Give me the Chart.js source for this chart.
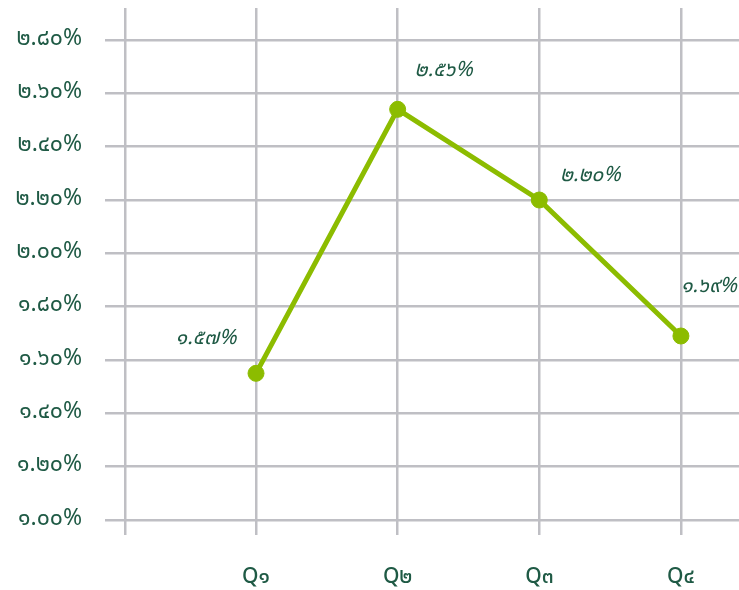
<!DOCTYPE html>
<html>
<head>
<meta charset="utf-8">
<script src="https://cdn.jsdelivr.net/npm/chart.js@4/dist/chart.umd.min.js"></script>
<style>
html,body{margin:0;padding:0;background:#fff;}
#wrap{width:739px;height:590px;position:relative;}
</style>
</head>
<body>
<div id="wrap"><canvas id="c" width="739" height="590"></canvas></div>
<script>
// Data
const categories = ['Q๑', 'Q๒', 'Q๓', 'Q๔'];
const values = [1.55, 2.54, 2.20, 1.69];
const valueLabels = ['๑.๕๗%', '๒.๕๖%', '๒.๒๐%', '๑.๖๙%'];
const yTickValues = [1.0, 1.2, 1.4, 1.6, 1.8, 2.0, 2.2, 2.4, 2.6, 2.8];
const yTickLabels = ['๑.๐๐%', '๑.๒๐%', '๑.๔๐%', '๑.๖๐%', '๑.๘๐%', '๒.๐๐%', '๒.๒๐%', '๒.๔๐%', '๒.๖๐%', '๒.๘๐%'];

const textColor = '#1f5a45';
const gridColor = '#bfbfc4';
const lineColor = '#8cbc00';
const FONT = "'Noto Sans Thai', 'Noto Sans', sans-serif";

const xStart = 0.075;

function zeroPad(scale) {
  scale.paddingTop = 0; scale.paddingBottom = 0;
  scale.paddingLeft = 0; scale.paddingRight = 0;
}

const labelPlugin = {
  id: 'valueLabels',
  afterDatasetsDraw(chart, args, opts) {
    const ctx = chart.ctx;
    const meta = chart.getDatasetMeta(0);
    ctx.save();
    ctx.font = 'italic 21px ' + FONT;
    ctx.fillStyle = textColor;
    ctx.textAlign = 'center';
    ctx.textBaseline = 'middle';
    meta.data.forEach((pt, i) => {
      const off = opts.offsets[i];
      ctx.fillText(valueLabels[i], pt.x + off[0], pt.y + off[1]);
    });
    ctx.restore();
  }
};

new Chart(document.getElementById('c'), {
  type: 'line',
  data: {
    datasets: [{
      data: values.map((v, i) => ({x: i + 1, y: v})),
      borderColor: lineColor,
      backgroundColor: lineColor,
      borderWidth: 5,
      pointRadius: 8,
      pointHoverRadius: 8,
      pointBorderWidth: 1,
      pointBackgroundColor: lineColor,
      pointBorderColor: lineColor,
      tension: 0,
      clip: false
    }]
  },
  options: {
    responsive: false,
    animation: false,
    layout: {autoPadding: false, padding: {top: 8, right: 0, left: 0, bottom: 0}},
    plugins: {
      legend: {display: false},
      tooltip: {enabled: false},
      valueLabels: {offsets: [[-50, -34], [46, -38], [51, -23], [28, -48]]}
    },
    scales: {
      x: {
        type: 'linear',
        min: xStart,
        max: 4.41,
        afterBuildTicks(scale) {
          scale.ticks = [{value: xStart}].concat(categories.map((c, i) => ({value: i + 1})));
        },
        afterFit(scale) { scale.height = 70; zeroPad(scale); },
        grid: {color: gridColor, lineWidth: 2.5, tickLength: 15, drawTicks: true},
        border: {display: false},
        ticks: {
          autoSkip: false,
          maxRotation: 0,
          padding: 31,
          color: textColor,
          font: {family: FONT, size: 21, weight: '500'},
          callback(v) {
            const idx = Math.round(v) - 1;
            return (Math.abs(v - Math.round(v)) < 1e-6 && idx >= 0) ? categories[idx] : '';
          }
        }
      },
      y: {
        type: 'linear',
        min: 1.0,
        max: 2.92,
        afterBuildTicks(scale) {
          scale.ticks = yTickValues.map(v => ({value: v}));
        },
        afterFit(scale) { scale.width = 125; zeroPad(scale); },
        grid: {color: gridColor, lineWidth: 2.5, tickLength: 20, drawTicks: true},
        border: {display: false},
        ticks: {
          padding: 23,
          color: textColor,
          font: {family: FONT, size: 23},
          callback(v) {
            const idx = yTickValues.findIndex(t => Math.abs(t - v) < 1e-6);
            return idx >= 0 ? yTickLabels[idx] : '';
          }
        }
      }
    }
  },
  plugins: [labelPlugin]
});
</script>
</body>
</html>
